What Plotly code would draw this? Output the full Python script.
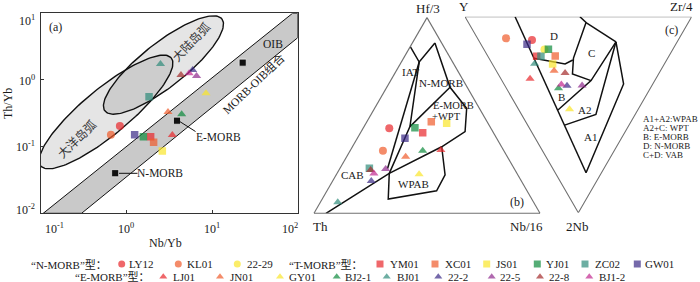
import math
import plotly.graph_objects as go

W, H = 700, 282

# ---------------- sample data ----------------
sample_ids = ["LY12", "KL01", "22-29",
              "YM01", "XC01", "JS01", "YJ01", "ZC02", "GW01",
              "LJ01", "JN01", "GY01", "BJ2-1", "BJ01", "22-2", "22-5", "22-8", "BJ1-2"]
sample_type = ["N", "N", "N",
               "T", "T", "T", "T", "T", "T",
               "E", "E", "E", "E", "E", "E", "E", "E", "E"]

# (a) Nb/Yb - Th/Yb
nb_yb = [0.84, 0.66, None, 1.92, 2.08, 2.63, 1.58, 1.84, 1.25,
         3.44, 3.06, 8.5, 4.42, 2.5, 5.94, 6.6, 4.34, 5.4]
th_yb = [0.204, 0.151, None, 0.141, 0.116, 0.086, 0.141, 0.56, 0.151,
         0.15, 0.33, 0.63, 0.305, 1.74, 1.41, 1.15, 1.19, 1.26]

ref_names = ["N-MORB", "E-MORB", "OIB"]
ref_nb_yb = [0.74, 3.9, 22.8]
ref_th_yb = [0.040, 0.245, 1.82]

# (b) Hf/3 - Th - Nb/16 (fractions)
b_hf = [0.434, 0.320, None, 0.412, 0.468, 0.460, 0.437, 0.230, 0.383,
        0.323, 0.289, 0.200, 0.320, 0.056, 0.165, 0.226, 0.221, 0.204]
b_th = [0.450, 0.535, None, 0.313, 0.247, 0.183, 0.335, 0.640, 0.406,
        0.277, 0.450, 0.435, 0.359, 0.867, 0.664, 0.570, 0.639, 0.633]
b_nb = [0.116, 0.145, None, 0.275, 0.285, 0.357, 0.228, 0.130, 0.211,
        0.400, 0.261, 0.365, 0.321, 0.077, 0.171, 0.204, 0.140, 0.163]

# (c) Y - Zr/4 - 2Nb (fractions)
c_y = [0.645, 0.764, 0.566, 0.583, 0.502, 0.493, 0.549, 0.564, 0.656,
       0.555, 0.469, 0.303, 0.405, 0.573, 0.374, 0.308, 0.415, 0.402]
c_zr = [0.236, 0.126, 0.267, 0.215, 0.298, 0.266, 0.285, 0.234, 0.203,
        0.129, 0.255, 0.225, 0.230, 0.187, 0.274, 0.341, 0.298, 0.252]
c_nb = [0.119, 0.110, 0.167, 0.202, 0.200, 0.241, 0.166, 0.202, 0.141,
        0.316, 0.276, 0.472, 0.365, 0.240, 0.352, 0.351, 0.287, 0.346]

# ---------------- reference fields ----------------
# (a) MORB-OIB array band (Nb/Yb, Th/Yb)
band_nb_yb = [0.107, 87, 100, 100, 0.30, 0.107]
band_th_yb = [0.01, 10, 10, 4.3, 0.01, 0.01]
# arc fields as ellipses (log10 centre, two conjugate semi-axes in log10 units)
oceanic_arc = dict(c=(-0.238, -0.48), u=(0.762, 0.81), v=(0.1715, -0.266))
continental_arc = dict(c=(0.433, 0.2245), u=(0.683, 0.69), v=(0.156, -0.262))

# (b) Wood (1980) field boundaries, points as (Hf/3, Th, Nb/16)
bp = {
    "A": (0.852, 0.148, 0.0), "B": (0.773, 0.148, 0.079), "C": (0.870, 0.030, 0.100),
    "D": (0.644, 0.076, 0.280), "E": (0.537, 0.056, 0.407), "F": (0.417, 0.123, 0.460),
    "G": (0.340, 0.265, 0.395), "H": (0.204, 0.565, 0.231), "I": (0.0, 0.947, 0.053),
    "J": (0.073, 0.635, 0.292), "K": (0.115, 0.400, 0.485), "L": (0.196, 0.322, 0.482),
    "M": (0.443, 0.354, 0.203), "N": (0.229, 0.560, 0.211),
}
b_lines = [["A", "B", "C"], ["C", "D", "E", "F", "G", "H", "I"], ["B", "N"],
           ["B", "M", "H"], ["D", "M"], ["H", "J", "K", "L", "G"]]

# (c) Meschede (1986) field boundaries, points as (Y, Zr/4, 2Nb)
cp = {
    "P0": (0.779, 0.221, 0.0), "Q": (0.068, 0.136, 0.796),
    "D1": (0.590, 0.198, 0.212), "D2": (0.438, 0.321, 0.241), "D3": (0.414, 0.365, 0.221),
    "C0": (0.493, 0.507, 0.0), "C1": (0.451, 0.519, 0.030), "C2": (0.416, 0.373, 0.211),
    "C3": (0.380, 0.328, 0.292), "C4": (0.281, 0.393, 0.326),
    "AP": (0.270, 0.602, 0.128), "B0": (0.352, 0.172, 0.476),
    "A0": (0.284, 0.163, 0.553), "A1": (0.173, 0.328, 0.499), "R1": (0.129, 0.528, 0.343),
}
c_lines = [["P0", "Q"], ["D1", "D2", "D3"], ["C0", "C1", "C2", "C3", "C4"],
           ["C1", "AP"], ["B0", "C4", "AP"], ["A0", "A1", "AP"], ["Q", "R1", "AP"]]

# ---------------- styles ----------------
colors = {
    "LY12": "#e8262b", "KL01": "#ef5b2b", "22-29": "#f9e62a",
    "YM01": "#e8262b", "XC01": "#ef5b2b", "JS01": "#f9e62a", "YJ01": "#0d8a3c",
    "ZC02": "#2f8b7b", "GW01": "#3b2a86",
    "LJ01": "#e8262b", "JN01": "#ef5b2b", "GY01": "#f9e62a", "BJ2-1": "#0d8a3c",
    "BJ01": "#2f8b7b", "22-2": "#3b2a86", "22-5": "#8e2a8d", "22-8": "#a42b2b",
    "BJ1-2": "#c2288f",
}
symbols = {"N": "circle", "T": "square", "E": "triangle-up"}
sizes = {"N": 8, "T": 7.5, "E": 8}
SERIF = "Liberation Serif, Times New Roman, Noto Sans CJK SC, serif"
CJK = "Noto Sans CJK SC, Noto Sans CJK TC, sans-serif"
TXT = "#1a1a1a"
FIELD = dict(color="#111111", width=1.5)
EDGE = dict(color="#707070", width=1.1)

mcolors = [colors[s] for s in sample_ids]
msymbols = [symbols[t] for t in sample_type]
msizes = [sizes[t] for t in sample_type]

fig = go.Figure()

# ================= panel (a) =================
fig.add_trace(go.Scatter(x=band_nb_yb, y=band_th_yb, mode="lines", fill="toself",
                         fillcolor="#c9c9c9", line=dict(color="#111", width=1),
                         hoverinfo="skip", xaxis="x", yaxis="y", showlegend=False))


def ellipse(e, n=160):
    xs, ys = [], []
    for i in range(n + 1):
        t = 2 * math.pi * i / n
        lx = e["c"][0] + e["u"][0] * math.cos(t) + e["v"][0] * math.sin(t)
        ly = e["c"][1] + e["u"][1] * math.cos(t) + e["v"][1] * math.sin(t)
        xs.append(10 ** lx)
        ys.append(10 ** ly)
    return xs, ys


for e in [oceanic_arc, continental_arc]:
    ex, ey = ellipse(e)
    fig.add_trace(go.Scatter(x=ex, y=ey, mode="lines", fill="toself",
                             fillcolor="rgba(0,0,0,0.1)",
                             line=dict(color="#111", width=1.4), hoverinfo="skip",
                             xaxis="x", yaxis="y", showlegend=False))

fig.add_trace(go.Scatter(x=ref_nb_yb, y=ref_th_yb, mode="markers",
                         marker=dict(symbol="square", size=7, color="#111",
                                     line=dict(color="white", width=0.6)),
                         xaxis="x", yaxis="y", showlegend=False))

fig.add_trace(go.Scatter(x=nb_yb, y=th_yb, mode="markers",
                         marker=dict(symbol=msymbols, size=msizes, color=mcolors,
                                     line=dict(width=0)),
                         xaxis="x", yaxis="y", showlegend=False))

# ================= panel (b) (plotly ternary) =================
for ln in b_lines:
    fig.add_trace(go.Scatterternary(a=[bp[k][0] for k in ln], b=[bp[k][1] for k in ln],
                                    c=[bp[k][2] for k in ln], mode="lines", line=FIELD,
                                    hoverinfo="skip", showlegend=False))
fig.add_trace(go.Scatterternary(a=b_hf, b=b_th, c=b_nb, mode="markers",
                                marker=dict(symbol=msymbols, size=msizes, color=mcolors,
                                            line=dict(width=0)),
                                showlegend=False))

# ================= panel (c) (inverted ternary on cartesian axes) =================
S3 = math.sqrt(3) / 2


def tern_c(y, zr, nb):
    s = y + zr + nb
    return zr / s + 0.5 * nb / s, -S3 * nb / s


tri = [(1, 0, 0), (0, 1, 0), (0, 0, 1), (1, 0, 0)]
fig.add_trace(go.Scatter(x=[tern_c(*p)[0] for p in tri], y=[tern_c(*p)[1] for p in tri],
                         mode="lines", line=EDGE, hoverinfo="skip",
                         xaxis="x2", yaxis="y2", showlegend=False))
for ln in c_lines:
    pts = [tern_c(*cp[k]) for k in ln]
    fig.add_trace(go.Scatter(x=[p[0] for p in pts], y=[p[1] for p in pts], mode="lines",
                             line=FIELD, hoverinfo="skip", xaxis="x2", yaxis="y2",
                             showlegend=False))
cx, cy = [], []
for y, zr, nb in zip(c_y, c_zr, c_nb):
    px_, py_ = tern_c(y, zr, nb)
    cx.append(px_)
    cy.append(py_)
fig.add_trace(go.Scatter(x=cx, y=cy, mode="markers",
                         marker=dict(symbol=msymbols, size=msizes, color=mcolors,
                                     line=dict(width=0)),
                         xaxis="x2", yaxis="y2", showlegend=False))

# ================= legend (overlay, pixel units) =================
row_y = {"N": 264, "T": 264, "E": 276.7}
leg_marker_x = [121.7, 178.3, 237.3, 380, 435, 486.7, 537.3, 585, 637.3,
                163.3, 220, 280, 336.7, 386.7, 438.3, 491.7, 540, 589.3]
leg_text_x = [126.7, 185, 245, 387.7, 442.7, 494, 544, 592.7, 642.7,
              170.7, 228, 287, 343, 395, 446, 498, 546.7, 596.7]
fig.add_trace(go.Scatter(x=leg_marker_x, y=[row_y[t] for t in sample_type], mode="markers",
                         marker=dict(symbol=msymbols, size=[7 for _ in sample_ids],
                                     color=mcolors, line=dict(width=0)),
                         xaxis="x3", yaxis="y3", showlegend=False, hoverinfo="skip"))

annotations = []


def label(x, y, text, size=11, anchor="center", angle=0, color=TXT, font=SERIF):
    annotations.append(dict(x=x, y=y, xref="x3", yref="y3", text=text, showarrow=False,
                            xanchor=anchor, yanchor="middle", textangle=angle,
                            font=dict(family=font, size=size, color=color)))


for sid, t, tx in zip(sample_ids, sample_type, leg_text_x):
    label(tx, row_y[t], sid, size=11, anchor="left")
label(29, 264, "“N-MORB”型：", size=11, anchor="left")
label(287, 264, "“T-MORB”型：", size=11, anchor="left")
label(73, 276.7, "“E-MORB”型：", size=11, anchor="left")

# ---- panel (a) texts ----
label(55, 26.7, "(a)", size=12)
label(8, 104, "Th/Yb", size=12, angle=-90)
label(165, 243, "Nb/Yb", size=12)
for x, t in [(54, "10<sup>-1</sup>"), (126, "10<sup>0</sup>"), (211.5, "10<sup>1</sup>"),
             (290, "10<sup>2</sup>")]:
    label(x, 228, t, size=12)
for y, t in [(20.7, "10<sup>1</sup>"), (80, "10<sup>0</sup>"), (146.7, "10<sup>-1</sup>"),
             (209.3, "10<sup>-2</sup>")]:
    label(37, y, t, size=12, anchor="right")
label(190, 41, "大陆岛弧", size=12, angle=-46, font=CJK, color="#333")
label(76, 138.3, "大洋岛弧", size=12, angle=-44, font=CJK, color="#333")
label(253.5, 83.5, "MORB-OIB组合", size=11.5, angle=-44)
label(273, 43.5, "OIB", size=11.5)
label(218.5, 137, "E-MORB", size=11.5)
label(159.5, 173.3, "N-MORB", size=11.5)

# ---- panel (b) texts ----
label(428.3, 8.3, "Hf/3", size=13)
label(320.7, 226.7, "Th", size=13)
label(526.7, 226.7, "Nb/16", size=13)
label(410, 71.7, "IAT", size=11)
label(441, 83.3, "N-MORB", size=11)
label(453, 105.3, "E-MORB", size=10.5)
label(446.5, 116.8, "+WPT", size=10.5)
label(352.7, 175, "CAB", size=11)
label(413.3, 184.3, "WPAB", size=11)
label(517.3, 202.3, "(b)", size=12)

# ---- panel (c) texts ----
label(464, 6.5, "Y", size=13)
label(681, 6, "Zr/4", size=13)
label(577.3, 226.7, "2Nb", size=13)
label(671.7, 30, "(c)", size=12)
label(554, 35.5, "D", size=11)
label(591, 53.3, "C", size=11)
label(561, 97, "B", size=11)
label(584.5, 109.5, "A2", size=11)
label(590, 137, "A1", size=11)
for i, t in enumerate(["A1+A2:WPAB", "A2+C: WPT", "B: E-MORB", "D: N-MORB", "C+D: VAB"]):
    label(641, 119 + 9.1 * i, t, size=9, anchor="left")

shapes = [
    dict(type="line", xref="x3", yref="y3", x0=180, y0=121.7, x1=195.5, y1=131.5,
         line=dict(color="#111", width=1)),
    dict(type="line", xref="x3", yref="y3", x0=119, y0=173.3, x1=137.5, y1=173.3,
         line=dict(color="#111", width=1)),
]

tern_axis = dict(showticklabels=False, showgrid=False, ticks="", showline=True,
                 linecolor="#707070", linewidth=1.1, title=dict(text=""), min=0)

fig.update_layout(
    width=W, height=H, margin=dict(l=0, r=0, t=0, b=0),
    paper_bgcolor="white", plot_bgcolor="rgba(0,0,0,0)", showlegend=False,
    xaxis=dict(type="log", range=[-1, 2], domain=[40.7 / W, 297.7 / W], anchor="y",
               showline=True, mirror=True, linecolor="#333", linewidth=1,
               ticks="inside", ticklen=3, tickcolor="#333",
               tickvals=[0.1, 1, 10, 100], showticklabels=False, showgrid=False,
               zeroline=False),
    yaxis=dict(type="log", range=[-2, 1], domain=[1 - 213.3 / H, 1 - 13.3 / H], anchor="x",
               showline=True, mirror=True, linecolor="#333", linewidth=1,
               ticks="inside", ticklen=3, tickcolor="#333",
               tickvals=[0.01, 0.1, 1, 10], showticklabels=False, showgrid=False,
               zeroline=False),
    xaxis2=dict(domain=[465 / W, 691.7 / W], range=[0, 1], visible=False, anchor="y2"),
    yaxis2=dict(domain=[1 - 212.7 / H, 1 - 16.7 / H], range=[-S3, 0], visible=False,
                anchor="x2"),
    xaxis3=dict(domain=[0, 1], range=[0, W], visible=False, anchor="y3"),
    yaxis3=dict(domain=[0, 1], range=[H, 0], visible=False, anchor="x3"),
    ternary=dict(domain=dict(x=[314 / W, 540 / W], y=[1 - 213.3 / H, 1 - 17.6 / H]),
                 sum=1, bgcolor="rgba(0,0,0,0)",
                 aaxis=tern_axis, baxis=tern_axis, caxis=tern_axis),
    annotations=annotations, shapes=shapes,
)

fig.write_html("out.html", config={"displayModeBar": False},
               post_script="document.body.style.margin='0px';"
                           "document.body.style.overflow='hidden';")
